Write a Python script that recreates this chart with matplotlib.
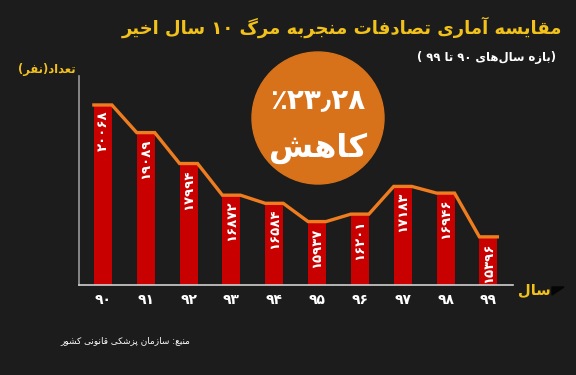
import matplotlib
matplotlib.use("Agg")
import matplotlib.pyplot as plt
from matplotlib.patches import Ellipse, Polygon

# --- data -------------------------------------------------------------
years = ["۹۰", "۹۱", "۹۲", "۹۳", "۹۴", "۹۵", "۹۶", "۹۷", "۹۸", "۹۹"]
deaths = [20068, 19089, 17994, 16872, 16584, 15937, 16201, 17183, 16946, 15396]

title = "مقایسه آماری تصادفات منجربه مرگ ۱۰ سال اخیر"
subtitle = "(بازه سال\u200cهای ۹۰ تا ۹۹ )"
ylabel = "تعداد(نفر)"
xlabel = "سال"
badge_pct = "۲۳٫۲۸٪"
badge_word = "کاهش"
source = "منبع: سازمان پزشکی قانونی کشور"

# --- tiny arabic/persian shaper (matplotlib has no shaping) -----------
FORMS = {
    'ا': ('\uFE8D', '\uFE8E', None, None),
    'آ': ('\uFE81', '\uFE82', None, None),
    'ب': ('\uFE8F', '\uFE90', '\uFE91', '\uFE92'),
    'پ': ('\uFB56', '\uFB57', '\uFB58', '\uFB59'),
    'ت': ('\uFE95', '\uFE96', '\uFE97', '\uFE98'),
    'ج': ('\uFE9D', '\uFE9E', '\uFE9F', '\uFEA0'),
    'خ': ('\uFEA5', '\uFEA6', '\uFEA7', '\uFEA8'),
    'د': ('\uFEA9', '\uFEAA', None, None),
    'ر': ('\uFEAD', '\uFEAE', None, None),
    'ز': ('\uFEAF', '\uFEB0', None, None),
    'س': ('\uFEB1', '\uFEB2', '\uFEB3', '\uFEB4'),
    'ش': ('\uFEB5', '\uFEB6', '\uFEB7', '\uFEB8'),
    'ص': ('\uFEB9', '\uFEBA', '\uFEBB', '\uFEBC'),
    'ع': ('\uFEC9', '\uFECA', '\uFECB', '\uFECC'),
    'ف': ('\uFED1', '\uFED2', '\uFED3', '\uFED4'),
    'ق': ('\uFED5', '\uFED6', '\uFED7', '\uFED8'),
    'ک': ('\uFB8E', '\uFB8F', '\uFB90', '\uFB91'),
    'گ': ('\uFB92', '\uFB93', '\uFB94', '\uFB95'),
    'ل': ('\uFEDD', '\uFEDE', '\uFEDF', '\uFEE0'),
    'م': ('\uFEE1', '\uFEE2', '\uFEE3', '\uFEE4'),
    'ن': ('\uFEE5', '\uFEE6', '\uFEE7', '\uFEE8'),
    'ه': ('\uFEE9', '\uFEEA', '\uFEEB', '\uFEEC'),
    'و': ('\uFEED', '\uFEEE', None, None),
    'ی': ('\uFBFC', '\uFBFD', '\uFBFE', '\uFBFF'),
}
DIGITS = set("۰۱۲۳۴۵۶۷۸۹0123456789٫")
MIRROR = {"(": ")", ")": "("}


def shape(text):
    out = []
    for i, c in enumerate(text):
        if c not in FORMS:
            out.append(c)
            continue
        iso, fin, ini, med = FORMS[c]
        prev = text[i - 1] if i > 0 else ""
        nxt = text[i + 1] if i + 1 < len(text) else ""
        jp = prev in FORMS and FORMS[prev][2] is not None
        jn = nxt in FORMS and ini is not None
        if jp and jn:
            out.append(med)
        elif jp:
            out.append(fin)
        elif jn:
            out.append(ini)
        else:
            out.append(iso)
    s = "".join(out).replace("\u200c", "")
    # visual order: reverse, keep digit runs left-to-right
    runs, cur, isdig = [], "", None
    for c in s:
        d = c in DIGITS
        if cur and d != isdig:
            runs.append((cur, isdig))
            cur = ""
        cur += c
        isdig = d
    if cur:
        runs.append((cur, isdig))
    vis = ""
    for r, d in reversed(runs):
        vis += r if d else "".join(MIRROR.get(c, c) for c in reversed(r))
    return vis


# --- figure -----------------------------------------------------------
bg = "#1c1c1c"
yellow = "#f2c21b"
red = "#c80000"
orange = "#ef7d1f"
plt.rcParams["font.family"] = ["DejaVu Sans"]

fig = plt.figure(figsize=(5.76, 3.75), dpi=100, facecolor=bg)
ax = fig.add_axes([0.137, 0.24, 0.754, 0.557])
ax.set_facecolor(bg)

x = list(range(len(deaths)))
w = 0.42
ax.bar(x, deaths, width=w, color=red, zorder=2)

# stepped outline over the bar tops
lx, ly = [], []
for i, v in zip(x, deaths):
    lx += [i - w / 2, i + w / 2]
    ly += [v + 40, v + 40]
ax.plot(lx, ly, color=orange, linewidth=2.4, solid_joinstyle="miter", zorder=3)

for i, v in zip(x, deaths):
    lab = str(v).translate(str.maketrans("0123456789", "۰۱۲۳۴۵۶۷۸۹"))
    ax.text(i, v - 160, lab, rotation=90, ha="center", va="top",
            color="white", fontsize=9.5, fontweight="bold", zorder=4)

ax.set_xlim(-0.56, 9.58)
ax.set_ylim(13730, 21130)
ax.set_xticks(x)
ax.set_xticklabels(years, color="white", fontsize=10, fontweight="bold")
ax.set_yticks([])
ax.tick_params(axis="x", length=0, pad=6)
for s in ["top", "right"]:
    ax.spines[s].set_visible(False)
ax.spines["left"].set_color("#9a9a9a")
ax.spines["bottom"].set_color("#d0d0d0")
ax.spines["left"].set_linewidth(1.2)
ax.spines["bottom"].set_linewidth(1.2)

# texts
fig.text(562 / 576, 1 - 27 / 375, shape(title), ha="right", va="center",
         color=yellow, fontsize=13, fontweight="bold")
fig.text(556 / 576, 1 - 58 / 375, shape(subtitle), ha="right", va="center",
         color="white", fontsize=8.4, fontweight="bold")
fig.text(76 / 576, 1 - 70 / 375, shape(ylabel), ha="right", va="center",
         color=yellow, fontsize=8.3, fontweight="bold")
fig.text(518 / 576, 1 - 290 / 375, shape(xlabel), ha="left", va="center",
         color=yellow, fontsize=10.5, fontweight="bold")
fig.add_artist(Polygon([(552 / 576, 1 - 287 / 375), (564 / 576, 1 - 287 / 375),
                        (552 / 576, 1 - 295 / 375)], closed=True,
                       transform=fig.transFigure, color="#050505"))
fig.text(190 / 576, 1 - 341 / 375, shape(source), ha="right", va="center",
         color="white", fontsize=6.4)

# badge
cx, cy, r = 318, 118, 66
fig.add_artist(Ellipse((cx / 576, 1 - cy / 375), 2 * r / 576, 2 * r / 375,
                       transform=fig.transFigure, color="#d8721a", zorder=5))
fig.text(cx / 576, 1 - 100 / 375, shape(badge_pct), ha="center", va="center",
         color="white", fontsize=20, fontweight="bold", zorder=6)
fig.text(cx / 576, 1 - 148 / 375, shape(badge_word), ha="center", va="center",
         color="white", fontsize=23, fontweight="bold", zorder=6)

fig.savefig("out.png", dpi=100, facecolor=bg)
